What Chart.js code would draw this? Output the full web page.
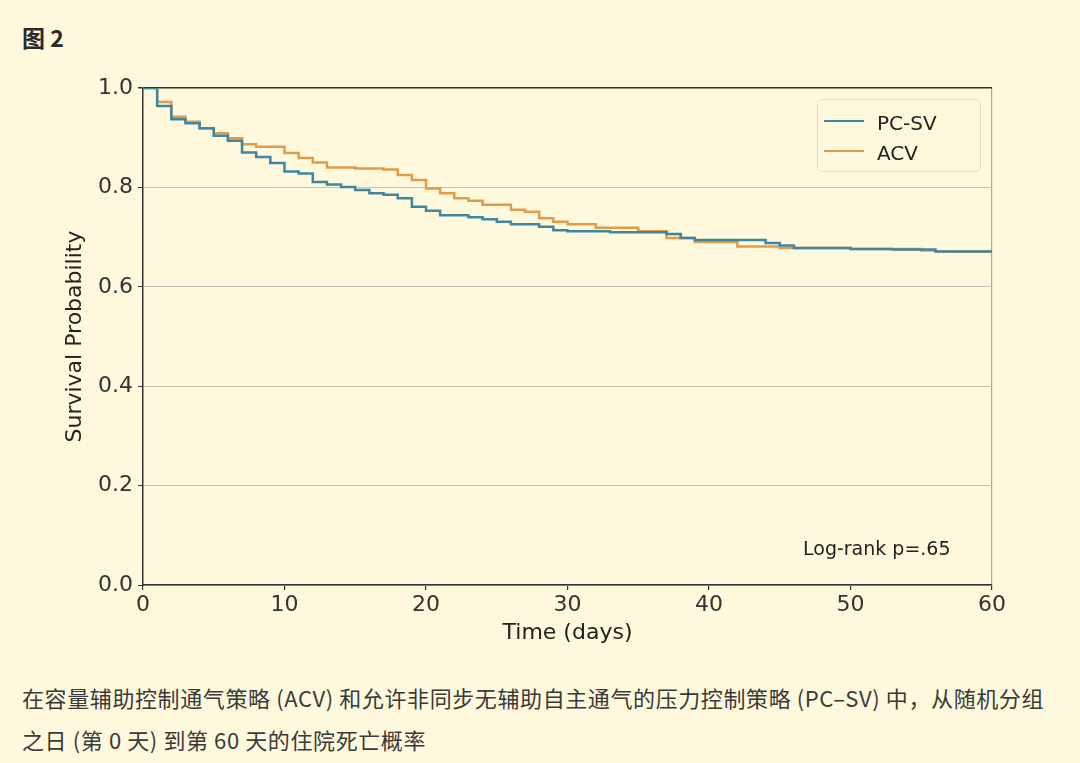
<!DOCTYPE html>
<html>
<head>
<meta charset="utf-8">
<script src="https://cdn.jsdelivr.net/npm/chart.js@4/dist/chart.umd.min.js"></script>
<style>
  html, body { margin: 0; padding: 0; }
  body { width: 1080px; height: 763px; background: #fef9dd; position: relative; overflow: hidden; }
  #title { position: absolute; left: 22px; top: 20px; font: bold 23px "Noto Sans CJK SC", sans-serif; color: #2a2a2a; }
  #wrap { position: absolute; left: 0; top: 0; width: 1080px; height: 646px; }
  #legend { position: absolute; left: 817px; top: 99px; width: 164px; height: 73px; border: 1px solid #e2ddc6; border-radius: 5px; box-sizing: border-box; }
  .item { position: absolute; left: 6px; height: 24px; display: flex; align-items: center; font: 20px "DejaVu Sans", sans-serif; color: #222; }
  .swatch { width: 40px; height: 0; border-top: 2.5px solid; margin-right: 13px; margin-top: -4px; }
  #pval { position: absolute; left: 803px; top: 537px; font: 19px "DejaVu Sans", sans-serif; color: #222; }
  #caption { position: absolute; left: 22px; top: 676px; width: 1058px; font: 22px "Noto Sans CJK SC", sans-serif; letter-spacing: 0.6px; color: #3a3a3a; line-height: 42px; white-space: nowrap; }
</style>
</head>
<body>
<div id="title">图 2</div>
<div id="wrap"><canvas id="c"></canvas></div>
<div id="legend"></div>
<div id="pval">Log-rank p=.65</div>
<div id="caption">在容量辅助控制通气策略 (ACV) 和允许非同步无辅助自主通气的压力控制策略 (PC–SV) 中，从随机分组<br>之日 (第 0 天) 到第 60 天的住院死亡概率</div>
<script>
// ---- data ----
const seriesNames = ["PC-SV", "ACV"];
const pcsvDays = [0, 1, 2, 3, 4, 5, 6, 7, 8, 9, 10, 11, 12, 13, 14, 15, 16, 17, 18, 19, 20, 21, 23, 24, 25, 26, 28, 29, 30, 33, 37, 38, 39, 44, 45, 46, 50, 53, 56, 60];
const pcsvSurv = [1.0, 0.964, 0.937, 0.929, 0.919, 0.904, 0.894, 0.870, 0.861, 0.849, 0.832, 0.828, 0.811, 0.806, 0.801, 0.795, 0.788, 0.785, 0.778, 0.761, 0.753, 0.744, 0.740, 0.736, 0.731, 0.726, 0.721, 0.714, 0.712, 0.710, 0.706, 0.698, 0.694, 0.688, 0.683, 0.678, 0.676, 0.675, 0.671, 0.671];
const acvDays = [0, 1, 2, 3, 4, 5, 6, 7, 8, 10, 11, 12, 13, 15, 17, 18, 19, 20, 21, 22, 23, 24, 26, 27, 28, 29, 30, 32, 35, 37, 39, 42, 45, 50, 55, 56, 60];
const acvSurv = [1.0, 0.972, 0.942, 0.932, 0.919, 0.909, 0.899, 0.887, 0.882, 0.869, 0.859, 0.850, 0.840, 0.838, 0.836, 0.825, 0.815, 0.798, 0.788, 0.778, 0.773, 0.765, 0.755, 0.751, 0.738, 0.731, 0.726, 0.719, 0.712, 0.698, 0.690, 0.681, 0.678, 0.676, 0.673, 0.671, 0.671];
const xTicks = [0, 10, 20, 30, 40, 50, 60];
const yTicks = [0.0, 0.2, 0.4, 0.6, 0.8, 1.0];
const xTitle = "Time (days)";
const yTitle = "Survival Probability";
const seriesColors = ["#3f86a0", "#e59a45"];

const toPts = (xs, ys) => xs.map((x, i) => ({ x: x, y: ys[i] }));
const datasets = [
  { label: seriesNames[0], data: toPts(pcsvDays, pcsvSurv), borderColor: seriesColors[0] },
  { label: seriesNames[1], data: toPts(acvDays, acvSurv), borderColor: seriesColors[1] }
].map(d => Object.assign(d, { stepped: 'before', pointRadius: 0, borderWidth: 2.5, fill: false, tension: 0 }));

// HTML legend from datasets
const lg = document.getElementById('legend');
datasets.forEach((d, i) => {
  const it = document.createElement('div');
  it.className = 'item';
  it.style.top = (i === 0 ? 11 : 41) + 'px';
  const sw = document.createElement('span');
  sw.className = 'swatch';
  sw.style.borderColor = d.borderColor;
  const tx = document.createElement('span');
  tx.textContent = d.label;
  it.appendChild(sw); it.appendChild(tx);
  lg.appendChild(it);
});

const axisFont = { family: "DejaVu Sans", size: 22 };
new Chart(document.getElementById('c'), {
  type: 'line',
  data: { datasets: datasets },
  options: {
    responsive: true,
    maintainAspectRatio: false,
    animation: false,
    layout: { padding: { left: 58, top: 88, right: 88, bottom: 0 } },
    plugins: { legend: { display: false }, tooltip: { enabled: false } },
    scales: {
      x: {
        type: 'linear', min: 0, max: 60,
        afterFit: s => { s.height = 61; },
        afterBuildTicks: s => { s.ticks = xTicks.map(v => ({ value: v })); },
        ticks: { color: '#333', font: axisFont, padding: 2, maxRotation: 0, callback: v => String(v) },
        grid: {
          drawOnChartArea: true, tickLength: 5, tickColor: '#333', lineWidth: 1.2,
          color: ctx => (ctx.tick && ctx.tick.value === 60) ? '#a8a8a8' : 'rgba(0,0,0,0)'
        },
        border: { color: '#333', width: 1.5 },
        title: { display: true, text: xTitle, color: '#222', font: axisFont, padding: { top: 0, bottom: 0 } }
      },
      y: {
        type: 'linear', min: 0, max: 1,
        afterFit: s => { s.width = 85; },
        afterBuildTicks: s => { s.ticks = yTicks.map(v => ({ value: v })); },
        ticks: { color: '#333', font: axisFont, padding: 5, callback: v => Number(v).toFixed(1) },
        grid: {
          tickLength: 5, tickColor: '#333',
          lineWidth: ctx => (ctx.tick && ctx.tick.value === 1) ? 1.5 : 1,
          color: ctx => (ctx.tick && ctx.tick.value === 1) ? '#333' : '#c4c2b4'
        },
        border: { color: '#333', width: 1.5 },
        title: { display: true, text: yTitle, color: '#222', font: axisFont, padding: { top: 4, bottom: 0 } }
      }
    }
  }
});
</script>
</body>
</html>
